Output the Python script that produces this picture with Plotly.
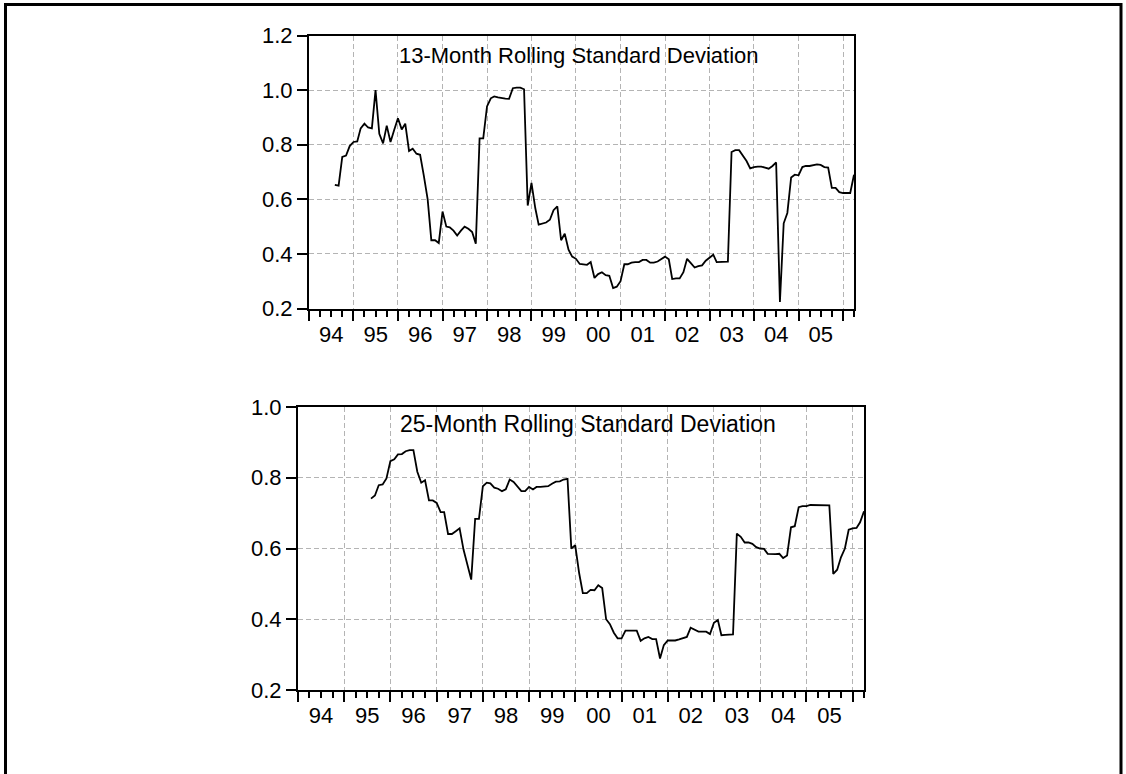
import pandas as pd
import plotly.graph_objects as go

# ---------------- data ----------------
title_13 = "13-Month Rolling Standard Deviation"
title_25 = "25-Month Rolling Standard Deviation"

start_13 = "1994-08-01"
sd_13 = [
    0.653, 0.650, 0.755, 0.760, 0.795, 0.810, 0.812, 0.860, 0.877, 0.863,
    0.860, 1.000, 0.840, 0.805, 0.870, 0.810, 0.854, 0.897, 0.856, 0.877,
    0.777, 0.785, 0.767, 0.763, 0.685, 0.600, 0.450, 0.450, 0.440, 0.555,
    0.500, 0.497, 0.485, 0.467, 0.485, 0.500, 0.492, 0.480, 0.437, 0.823,
    0.823, 0.940, 0.970, 0.977, 0.973, 0.970, 0.969, 0.968, 1.007, 1.009,
    1.009, 1.003, 0.577, 0.660, 0.568, 0.507, 0.510, 0.515, 0.525, 0.560,
    0.574, 0.450, 0.474, 0.415, 0.390, 0.382, 0.363, 0.362, 0.360, 0.370,
    0.312, 0.326, 0.333, 0.322, 0.320, 0.275, 0.280, 0.300, 0.362, 0.362,
    0.368, 0.370, 0.370, 0.378, 0.378, 0.368, 0.368, 0.372, 0.380, 0.390,
    0.380, 0.308, 0.310, 0.310, 0.333, 0.382, 0.366, 0.350, 0.355, 0.358,
    0.375, 0.385, 0.397, 0.370, 0.370, 0.370, 0.372, 0.773, 0.780, 0.780,
    0.760, 0.740, 0.713, 0.718, 0.720, 0.720, 0.716, 0.712, 0.722, 0.735,
    0.224, 0.512, 0.550, 0.680, 0.690, 0.688, 0.718, 0.722, 0.722, 0.726,
    0.728, 0.726, 0.718, 0.716, 0.642, 0.642, 0.626, 0.623, 0.623, 0.623,
    0.690,
]

start_25 = "1995-08-01"
sd_25 = [
    0.741, 0.750, 0.779, 0.781, 0.798, 0.847, 0.852, 0.866, 0.867, 0.875,
    0.878, 0.878, 0.817, 0.786, 0.793, 0.736, 0.736, 0.729, 0.703, 0.703,
    0.641, 0.641, 0.649, 0.657, 0.597, 0.554, 0.512, 0.684, 0.684, 0.776,
    0.786, 0.784, 0.772, 0.769, 0.762, 0.767, 0.795, 0.788, 0.776, 0.762,
    0.762, 0.774, 0.767, 0.774, 0.774, 0.776, 0.776, 0.783, 0.789, 0.790,
    0.795, 0.797, 0.600, 0.609, 0.530, 0.474, 0.474, 0.483, 0.482, 0.496,
    0.488, 0.400, 0.386, 0.362, 0.346, 0.346, 0.368, 0.368, 0.368, 0.368,
    0.339, 0.346, 0.350, 0.344, 0.344, 0.289, 0.327, 0.340, 0.340, 0.340,
    0.343, 0.346, 0.350, 0.376, 0.370, 0.365, 0.365, 0.365, 0.358, 0.390,
    0.398, 0.355, 0.356, 0.356, 0.357, 0.642, 0.633, 0.617, 0.617, 0.613,
    0.604, 0.600, 0.599, 0.585, 0.584, 0.584, 0.585, 0.573, 0.580, 0.660,
    0.663, 0.717, 0.720, 0.720, 0.723, 0.723, 0.723, 0.723, 0.723, 0.722,
    0.528, 0.540, 0.575, 0.600, 0.653, 0.657, 0.658, 0.674, 0.705,
]

x_range = ["1994-01-01", "2006-04-01"]
yticks_13 = [0.2, 0.4, 0.6, 0.8, 1.0, 1.2]
yticks_25 = [0.2, 0.4, 0.6, 0.8, 1.0]

dates_13 = pd.date_range(start_13, periods=len(sd_13), freq="MS")
dates_25 = pd.date_range(start_25, periods=len(sd_25), freq="MS")

# ---------------- figure ----------------
W, H = 1126, 774
FONT = "Liberation Sans, Arial, sans-serif"

fig = go.Figure()
fig.add_trace(go.Scatter(x=dates_13, y=sd_13, mode="lines",
                         line=dict(color="black", width=1.8),
                         xaxis="x", yaxis="y", showlegend=False))
fig.add_trace(go.Scatter(x=dates_25, y=sd_25, mode="lines",
                         line=dict(color="black", width=1.8),
                         xaxis="x2", yaxis="y2", showlegend=False))

grid = dict(showgrid=True, gridcolor="#b4b4b4", gridwidth=1, griddash="5px,3px")
common_x = dict(type="date", range=x_range, tick0="1994-01-01", dtick="M12",
                ticklabelmode="period", tickformat="%y",
                ticks="outside", ticklen=10, tickwidth=2, tickcolor="black",
                ticklabelstandoff=-5,
                showline=True, linecolor="black", linewidth=2, mirror=True,
                zeroline=False, automargin=False,
                minor=dict(dtick="M3", tick0="1994-01-01", ticks="outside",
                           ticklen=6, tickwidth=1.5, tickcolor="black",
                           showgrid=False),
                tickfont=dict(family=FONT, size=22, color="black"),
                **grid)
common_y = dict(tickmode="array", tickformat=".1f",
                ticks="outside", ticklen=10, tickwidth=2, tickcolor="black",
                showline=True, linecolor="black", linewidth=2, mirror=True,
                zeroline=False, automargin=False,
                tickfont=dict(family=FONT, size=22, color="black"),
                **grid)


def dom(px0, px1, total):
    return [px0 / total, px1 / total]


fig.update_layout(
    width=W, height=H, autosize=False,
    margin=dict(l=0, r=0, t=0, b=0, pad=0, autoexpand=False),
    paper_bgcolor="white", plot_bgcolor="white",
    showlegend=False,
    xaxis=dict(domain=dom(309, 854, W), anchor="y", **common_x),
    yaxis=dict(domain=[1 - 308.5 / H, 1 - 35.5 / H], anchor="x",
               range=[0.2, 1.2], tickvals=yticks_13, **common_y),
    xaxis2=dict(domain=dom(298, 864, W), anchor="y2", **common_x),
    yaxis2=dict(domain=[1 - 690 / H, 1 - 407 / H], anchor="x2",
                range=[0.2, 1.0], tickvals=yticks_25, **common_y),
    annotations=[
        dict(text=title_13, xref="x domain", yref="y domain", x=0.495, y=0.928,
             xanchor="center", yanchor="middle", showarrow=False,
             font=dict(family=FONT, size=22, color="black")),
        dict(text=title_25, xref="x2 domain", yref="y2 domain", x=0.513, y=0.94,
             xanchor="center", yanchor="middle", showarrow=False,
             font=dict(family=FONT, size=23, color="black")),
    ],
    shapes=[
        dict(type="rect", xref="paper", yref="paper",
             x0=5.5 / W, x1=1121 / W, y0=-0.05, y1=1 - 4.5 / H,
             line=dict(color="black", width=3), fillcolor="rgba(0,0,0,0)"),
    ],
)

fig.write_html("out.html")
